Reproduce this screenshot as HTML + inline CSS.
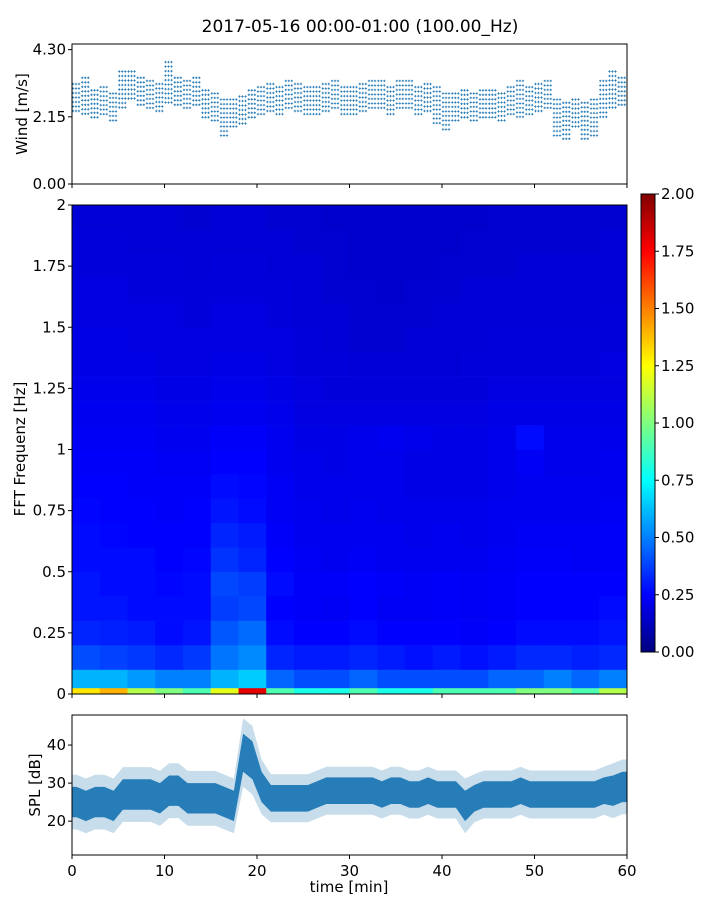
<!DOCTYPE html>
<html><head><meta charset="utf-8"><style>
body{margin:0;background:#fff;width:720px;height:900px;overflow:hidden}
svg{display:block;font-family:"DejaVu Sans","Liberation Sans",sans-serif}
</style></head><body>
<svg id="chart" width="720" height="900" viewBox="0 0 720 900" xmlns="http://www.w3.org/2000/svg">
<defs>
<linearGradient id="jet" x1="0" y1="1" x2="0" y2="0">
<stop offset="0" stop-color="#000080"/><stop offset="0.125" stop-color="#0000ff"/><stop offset="0.375" stop-color="#00ffff"/><stop offset="0.625" stop-color="#ffff00"/><stop offset="0.875" stop-color="#ff0000"/><stop offset="1" stop-color="#800000"/>
</linearGradient>
<clipPath id="clipW"><rect x="72" y="44" width="555" height="140"/></clipPath>
<clipPath id="clipS"><rect x="72" y="715" width="555" height="140"/></clipPath>
</defs>
<text x="360" y="32" font-size="17" text-anchor="middle">2017-05-16 00:00-01:00 (100.00_Hz)</text>
<g id="wind"></g>
<g id="spec"></g>
<g id="cbar"></g>
<g id="spl"></g>
</svg>
<script>
const timeTicks=[0,10,20,30,40,50,60];
const windTicks=[0,2.15,4.30];
const windTickLabels=["0.00","2.15","4.30"];
const windMean=[2.7,2.8,2.5,2.6,2.4,3.0,3.1,2.9,2.8,2.7,3.2,2.9,2.8,2.9,2.5,2.4,2.1,2.2,2.3,2.5,2.6,2.7,2.6,2.8,2.7,2.6,2.6,2.7,2.8,2.6,2.6,2.7,2.8,2.8,2.6,2.8,2.8,2.6,2.7,2.5,2.3,2.4,2.5,2.4,2.5,2.5,2.4,2.6,2.7,2.6,2.7,2.8,2.1,2.0,2.2,2.0,2.1,2.7,3.0,2.9];
const windSpread=[0.5,0.6,0.5,0.5,0.5,0.6,0.5,0.5,0.5,0.5,0.7,0.5,0.5,0.5,0.5,0.5,0.6,0.5,0.5,0.5,0.5,0.5,0.5,0.5,0.5,0.5,0.5,0.5,0.5,0.5,0.5,0.5,0.5,0.5,0.5,0.5,0.5,0.5,0.5,0.6,0.6,0.5,0.5,0.5,0.5,0.5,0.5,0.5,0.6,0.5,0.5,0.5,0.6,0.6,0.5,0.6,0.6,0.6,0.6,0.5];
const freqTicks=[0,0.25,0.5,0.75,1,1.25,1.5,1.75,2];
const freqTickLabels=["0","0.25","0.5","0.75","1","1.25","1.5","1.75","2"];
const freqEdges=[0,0.025,0.1,0.2,0.3,0.4,0.5,0.6,0.7,0.8,0.9,1.0,1.1,1.2,1.3,1.4,1.5,1.6,1.7,1.8,1.9,2.0];
const specTimeEdges=[0,3,6,9,12,15,18,21,24,27,30,33,36,39,42,45,48,51,54,57,60];
// rows bottom-up (one per freq band), 20 columns of 3 min
const specValues=[
[1.3,1.4,1.1,1.0,0.9,1.2,1.8,0.9,0.8,0.8,0.9,0.8,0.8,0.9,0.9,0.9,1.0,1.0,0.9,1.1],
[0.6,0.6,0.55,0.5,0.5,0.6,0.65,0.45,0.4,0.4,0.45,0.4,0.4,0.4,0.4,0.45,0.45,0.5,0.45,0.5],
[0.4,0.38,0.36,0.33,0.36,0.48,0.52,0.32,0.3,0.3,0.32,0.3,0.28,0.3,0.28,0.3,0.33,0.33,0.31,0.33],
[0.32,0.31,0.3,0.27,0.29,0.42,0.46,0.27,0.25,0.25,0.27,0.25,0.25,0.25,0.24,0.25,0.27,0.27,0.27,0.29],
[0.29,0.29,0.27,0.27,0.27,0.37,0.39,0.25,0.24,0.23,0.25,0.23,0.23,0.24,0.23,0.24,0.25,0.25,0.25,0.27],
[0.29,0.27,0.27,0.26,0.27,0.39,0.37,0.27,0.24,0.24,0.25,0.24,0.23,0.24,0.23,0.24,0.25,0.25,0.25,0.25],
[0.27,0.27,0.27,0.25,0.26,0.35,0.32,0.25,0.23,0.22,0.23,0.22,0.22,0.22,0.22,0.23,0.24,0.24,0.23,0.24],
[0.27,0.26,0.25,0.25,0.25,0.32,0.3,0.24,0.22,0.22,0.22,0.22,0.21,0.22,0.21,0.22,0.23,0.23,0.23,0.24],
[0.26,0.25,0.25,0.24,0.25,0.29,0.27,0.23,0.22,0.21,0.22,0.21,0.21,0.21,0.21,0.22,0.22,0.22,0.22,0.23],
[0.25,0.25,0.24,0.24,0.24,0.27,0.26,0.23,0.21,0.21,0.21,0.21,0.2,0.2,0.2,0.21,0.22,0.22,0.22,0.22],
[0.24,0.24,0.24,0.23,0.23,0.25,0.25,0.22,0.21,0.2,0.21,0.21,0.2,0.2,0.2,0.21,0.23,0.21,0.21,0.22],
[0.23,0.23,0.23,0.22,0.22,0.24,0.24,0.22,0.2,0.2,0.21,0.22,0.21,0.2,0.2,0.21,0.27,0.21,0.21,0.21],
[0.22,0.22,0.22,0.21,0.21,0.22,0.22,0.21,0.19,0.19,0.19,0.19,0.19,0.19,0.19,0.2,0.2,0.2,0.2,0.2],
[0.21,0.21,0.21,0.2,0.2,0.21,0.21,0.2,0.19,0.18,0.18,0.18,0.18,0.18,0.18,0.19,0.19,0.19,0.19,0.19],
[0.2,0.2,0.2,0.19,0.19,0.2,0.2,0.19,0.18,0.18,0.17,0.17,0.17,0.17,0.18,0.18,0.18,0.18,0.18,0.19],
[0.2,0.2,0.19,0.19,0.19,0.19,0.19,0.19,0.18,0.17,0.16,0.16,0.17,0.17,0.17,0.18,0.18,0.18,0.18,0.18],
[0.19,0.19,0.19,0.19,0.18,0.19,0.19,0.18,0.17,0.17,0.16,0.16,0.16,0.17,0.17,0.17,0.17,0.17,0.17,0.18],
[0.19,0.19,0.18,0.18,0.18,0.18,0.18,0.18,0.17,0.16,0.16,0.15,0.16,0.16,0.17,0.17,0.17,0.17,0.17,0.17],
[0.18,0.18,0.18,0.18,0.17,0.18,0.18,0.17,0.17,0.16,0.15,0.15,0.15,0.16,0.16,0.16,0.17,0.17,0.17,0.17],
[0.18,0.18,0.17,0.17,0.17,0.17,0.17,0.17,0.16,0.16,0.15,0.15,0.15,0.15,0.16,0.16,0.16,0.16,0.16,0.17],
[0.17,0.17,0.17,0.17,0.16,0.17,0.17,0.16,0.16,0.15,0.15,0.15,0.15,0.15,0.15,0.16,0.16,0.16,0.16,0.16]
];
const cbarTicks=[0,0.25,0.5,0.75,1,1.25,1.5,1.75,2];
const cbarTickLabels=["0.00","0.25","0.50","0.75","1.00","1.25","1.50","1.75","2.00"];
const splTicks=[20,30,40];
const splMean=[25,24,25,25,24,27,27,27,27,26,28,28,26,26,26,26,25,24,38,36,29,26,26,26,26,26,27,28,28,28,28,28,28,27,28,28,27,27,28,27,27,27,24,26,27,27,27,27,28,27,27,27,27,27,27,27,27,28,28,29];
const splSpread=[4,4,4,4,4,4,4,4,4,4,4,4,4,4,4,4,4,4,5,5,4,3.5,3.5,3.5,3.5,3.5,3.5,3.5,3.5,3.5,3.5,3.5,3.5,3.5,3.5,3.5,3.5,3.5,3.5,3.5,3.5,3.5,4,3.5,3.5,3.5,3.5,3.5,3.5,3.5,3.5,3.5,3.5,3.5,3.5,3.5,3.5,3.5,4,4];

const NS="http://www.w3.org/2000/svg";
function mk(tag,attrs,parent){const e=document.createElementNS(NS,tag);for(const k in attrs)e.setAttribute(k,attrs[k]);parent.appendChild(e);return e;}
const X0=72,X1=627,FS=15;
const xT=t=>X0+(X1-X0)*t/60;
const yW=v=>184-140*v/4.48;
const yF=f=>694-489*f/2;
const yC=v=>652-458*v/2;
const yS=v=>855-140*(v-11.1)/36.8;
function jet(v){const t=Math.max(0,Math.min(1,v/2));const c=x=>Math.round(255*Math.max(0,Math.min(1,1.5-Math.abs(4*t-x))));return `rgb(${c(3)},${c(2)},${c(1)})`;}

// WIND
const gw=document.getElementById('wind');
const wd=mk('g',{'clip-path':'url(#clipW)'},gw);


let dpath='';
windMean.forEach((m,i)=>{
  const lo=yW(m-windSpread[i]),hi=yW(m+windSpread[i]);
  for(let x=xT(i)+1;x<xT(i+1);x+=3){
    for(let y=hi;y<=lo;y+=4.5){dpath+=`M${(x-1.2).toFixed(1)} ${y.toFixed(1)}h2.4M${x.toFixed(1)} ${(y-1.2).toFixed(1)}v2.4`;}
  }
});
mk('path',{d:dpath,stroke:'#1f77b4','stroke-width':0.8,fill:'none'},wd);
mk('rect',{x:X0,y:44,width:555,height:140,fill:'none',stroke:'#000','stroke-width':1},gw);
windTicks.forEach((v,i)=>{const y=yW(v);mk('line',{x1:X0-4,x2:X0,y1:y,y2:y,stroke:'#000'},gw);
 const t=mk('text',{x:X0-6,y:y+5,'font-size':FS,'text-anchor':'end'},gw);t.textContent=windTickLabels[i];
 });
timeTicks.forEach(v=>mk('line',{x1:xT(v),x2:xT(v),y1:184,y2:188,stroke:'#000'},gw));
const wl=mk('text',{x:0,y:0,'font-size':FS,'text-anchor':'middle',transform:'translate(27,114) rotate(-90)'},gw);wl.textContent='Wind [m/s]';


// SPECTROGRAM
const gs=document.getElementById('spec');
specValues.forEach((row,r)=>{row.forEach((v,c)=>{
  const y0=yF(freqEdges[r+1]),y1=yF(freqEdges[r]);
  const e=mk('rect',{x:xT(specTimeEdges[c]),y:y0,width:xT(specTimeEdges[c+1])-xT(specTimeEdges[c])+0.3,height:y1-y0+0.3,fill:jet(v)},gs);
  
});});
mk('rect',{x:X0,y:205,width:555,height:489,fill:'none',stroke:'#000'},gs);
freqTicks.forEach((v,i)=>{const y=yF(v);mk('line',{x1:X0-4,x2:X0,y1:y,y2:y,stroke:'#000'},gs);
 const t=mk('text',{x:X0-6,y:y+5,'font-size':FS,'text-anchor':'end'},gs);t.textContent=freqTickLabels[i];
 });
timeTicks.forEach(v=>mk('line',{x1:xT(v),x2:xT(v),y1:694,y2:698,stroke:'#000'},gs));
const fl=mk('text',{x:0,y:0,'font-size':FS,'text-anchor':'middle',transform:'translate(25,449) rotate(-90)'},gs);fl.textContent='FFT Frequenz [Hz]';


// COLORBAR
const gc=document.getElementById('cbar');
mk('rect',{x:641,y:194,width:14,height:458,fill:'url(#jet)',stroke:'#000'},gc);
cbarTicks.forEach((v,i)=>{const y=yC(v);mk('line',{x1:655,x2:659,y1:y,y2:y,stroke:'#000'},gc);
 const t=mk('text',{x:661,y:y+5,'font-size':FS},gc);t.textContent=cbarTickLabels[i];
 });

// SPL
const gp=document.getElementById('spl');
const sp=mk('g',{'clip-path':'url(#clipS)'},gp);


function band(k,fill,op){
 let d=`M${X0} ${yS(splMean[0]+k*splSpread[0]).toFixed(1)}`;
 splMean.forEach((m,i)=>{d+=`L${xT(i+0.5).toFixed(1)} ${yS(m+k*splSpread[i]).toFixed(1)}`;});
 const n=splMean.length-1;
 d+=`L${X1} ${yS(splMean[n]+k*splSpread[n]).toFixed(1)}L${X1} ${yS(splMean[n]-k*splSpread[n]).toFixed(1)}`;
 for(let i=n;i>=0;i--){d+=`L${xT(i+0.5).toFixed(1)} ${yS(splMean[i]-k*splSpread[i]).toFixed(1)}`;}
 d+=`L${X0} ${yS(splMean[0]-k*splSpread[0]).toFixed(1)}Z`;
 mk('path',{d,fill,'fill-opacity':op},sp);}
band(1.8,'#1f77b4',0.25);band(1,'#1f77b4',0.95);
mk('rect',{x:X0,y:715,width:555,height:140,fill:'none',stroke:'#000'},gp);
splTicks.forEach(v=>{const y=yS(v);mk('line',{x1:X0-4,x2:X0,y1:y,y2:y,stroke:'#000'},gp);
 const t=mk('text',{x:X0-6,y:y+5,'font-size':FS,'text-anchor':'end'},gp);t.textContent=v;
 });
timeTicks.forEach(v=>{mk('line',{x1:xT(v),x2:xT(v),y1:855,y2:859,stroke:'#000'},gp);
 const t=mk('text',{x:xT(v),y:876,'font-size':FS,'text-anchor':'middle'},gp);t.textContent=v;
 });
const xl=mk('text',{x:349,y:892,'font-size':FS,'text-anchor':'middle'},gp);xl.textContent='time [min]';

const sl=mk('text',{x:0,y:0,'font-size':FS,'text-anchor':'middle',transform:'translate(40,785) rotate(-90)'},gp);sl.textContent='SPL [dB]';

</script>
</body></html>
